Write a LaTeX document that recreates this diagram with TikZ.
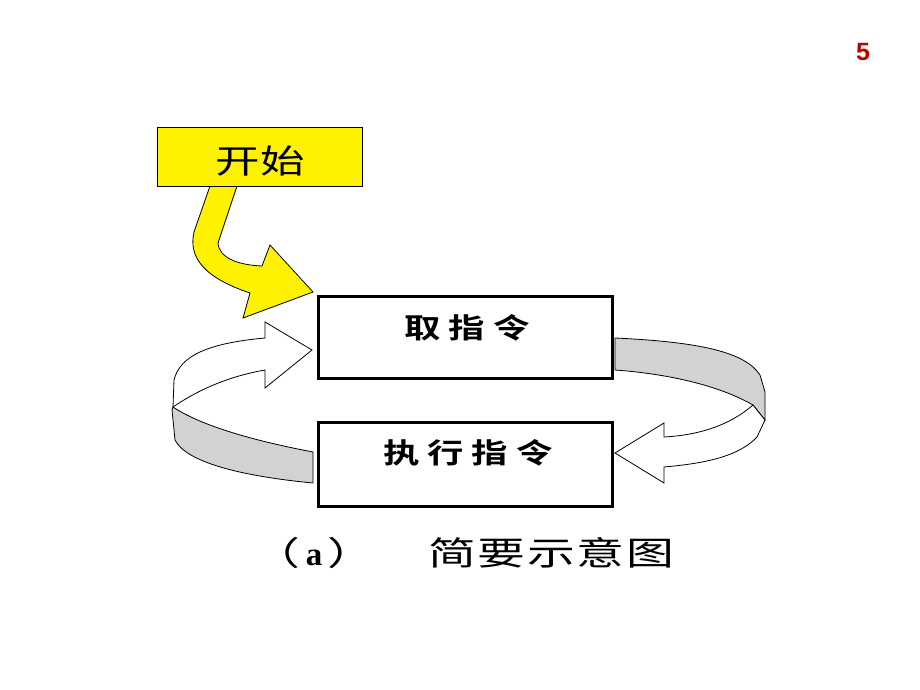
\documentclass[tikz,border=0pt]{standalone}
\usepackage{fontspec}
\setmainfont{Liberation Sans}
\newfontfamily\serifb{Liberation Serif Bold}
\newfontfamily\cjk[FakeStretch=1.35]{Noto Sans CJK SC}
\newfontfamily\cjkbs[FakeStretch=1.3,LetterSpace=28]{Noto Sans CJK SC Bold}
\newfontfamily\cjkcap[FakeStretch=1.45,LetterSpace=5]{Noto Sans CJK SC}
\begin{document}
\begin{tikzpicture}[x=1pt,y=-1pt,
  mainbox/.style={draw=black,line width=3pt,fill=white},
  flow/.style={draw=black,line width=0.8pt,line join=miter},
  band/.style={flow,fill=gray!35},
  outline/.style={flow,fill=white}]
\useasboundingbox[fill=white] (0,0) rectangle (920,690);
% yellow start arrow
\draw[flow,fill=yellow] (210,186) -- (194,232) .. controls (188,258) and (205,278) .. (250,293)
  -- (243,318) -- (313,292) -- (270,245) -- (262,266)
  .. controls (238,265) and (219,258) .. (218,243) -- (237,186) -- cycle;
\node[draw=black,line width=1pt,fill=yellow,minimum width=205pt,minimum height=59pt,
  inner sep=0pt] (start) at (259.5,156.5) {};
\node[font={\cjk\fontsize{33}{33}\selectfont},inner sep=0pt] (startt) at (260,161) {开始};
% left loop
\draw[band] (173,407) .. controls (200,425) and (250,440) .. (313,452) -- (313,483)
  .. controls (240,476) and (186,462) .. (175,440) -- (172,410) -- cycle;
\draw[outline] (265,370) -- (265,388) -- (312,350) -- (265,322) -- (265,338)
  .. controls (210,343) and (180,355) .. (174,380) -- (173,407)
  .. controls (195,392) and (225,377) .. (265,370) -- cycle;
% right loop
\draw[band] (615,338) .. controls (700,342) and (745,352) .. (760,375) -- (765,392)
  -- (765,420) -- (753,405) .. controls (720,386) and (670,374) .. (615,370) -- cycle;
\draw[outline] (765,420) -- (757,437) .. controls (740,455) and (710,463) .. (664,467)
  -- (664,483) -- (615,453) -- (664,423) -- (664,437)
  .. controls (700,435) and (730,425) .. (753,405) -- cycle;
% boxes
\node[mainbox,minimum width=294pt,minimum height=82pt,inner sep=0pt] (fetch) at (465,337) {};
\node[mainbox,minimum width=294pt,minimum height=84pt,inner sep=0pt] (exec) at (465,464) {};
\node[font={\cjkbs\fontsize{28}{28}\selectfont},inner sep=0pt] (fetcht) at (467,328) {取指令};
\node[font={\cjkbs\fontsize{28}{28}\selectfont},inner sep=0pt] (exect) at (468,453) {执行指令};
% caption
\node[font={\cjkcap\fontsize{33}{33}\selectfont},inner sep=0pt] (capa) at (314,553) {（\,{\serifb a}\,）};
\node[font={\cjkcap\fontsize{33}{33}\selectfont},inner sep=0pt] (capb) at (551,553) {简要示意图};
% page number
\node[font={\bfseries\fontsize{25}{25}\selectfont},text=red!75!black,inner sep=0pt] (pg) at (863,52) {5};
\end{tikzpicture}
\end{document}
